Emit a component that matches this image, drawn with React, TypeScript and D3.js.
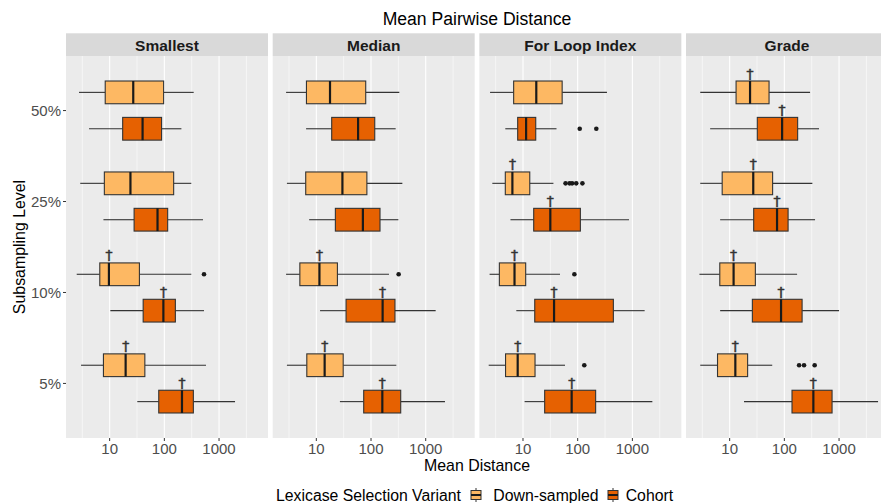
import React from "react";
import * as d3 from "d3";

const panels = ["Smallest", "Median", "For Loop Index", "Grade"];
const levels = ["50%", "25%", "10%", "5%"];
const variants = ["Down-sampled", "Cohort"];
const xTicks = [10, 100, 1000];
const xMinor = [Math.pow(10, 0.5), Math.pow(10, 1.5), Math.pow(10, 2.5), Math.pow(10, 3.5)];

// [level, variant, lower whisker, q1, median, q3, upper whisker, significant]
type Row = [string, string, number, number, number, number, number, boolean];

const smallestStats: Row[] = [
  ["50%", "Down-sampled", 2.75, 8.3, 27, 97, 344, false],
  ["50%", "Cohort", 4.2, 17.3, 40, 89, 205, false],
  ["25%", "Down-sampled", 2.9, 8.0, 24, 148, 311, false],
  ["25%", "Cohort", 7.7, 28, 75, 115, 509, false],
  ["10%", "Down-sampled", 2.5, 6.6, 9.7, 35, 311, true],
  ["10%", "Cohort", 10.3, 41, 96, 159, 531, true],
  ["5%", "Down-sampled", 3.0, 7.7, 19.6, 44, 577, true],
  ["5%", "Cohort", 32, 79, 210, 339, 1960, true],
];
const medianStats: Row[] = [
  ["50%", "Down-sampled", 2.8, 6.6, 17.8, 80, 329, false],
  ["50%", "Cohort", 6.5, 19.1, 58, 117, 282, false],
  ["25%", "Down-sampled", 2.9, 6.4, 30, 84, 374, false],
  ["25%", "Cohort", 7.4, 22.3, 71, 146, 316, false],
  ["10%", "Down-sampled", 2.8, 5.0, 11.4, 24.3, 213, true],
  ["10%", "Cohort", 11.7, 35, 163, 274, 1520, true],
  ["5%", "Down-sampled", 2.9, 6.7, 14.2, 31, 290, true],
  ["5%", "Cohort", 27, 73.5, 161, 349, 2250, true],
];
const forLoopStats: Row[] = [
  ["50%", "Down-sampled", 2.5, 6.75, 17.5, 52, 343, false],
  ["50%", "Cohort", 4.75, 8.0, 11.4, 17.1, 41, false],
  ["25%", "Down-sampled", 2.75, 4.75, 6.4, 13.3, 36, true],
  ["25%", "Cohort", 5.9, 15.7, 31.6, 112, 867, true],
  ["10%", "Down-sampled", 2.45, 3.7, 7.0, 11.2, 47.5, true],
  ["10%", "Cohort", 7.55, 16.4, 37, 449, 1675, true],
  ["5%", "Down-sampled", 2.36, 4.8, 8.0, 16.6, 58.6, true],
  ["5%", "Cohort", 10.7, 24.9, 77.6, 213, 2317, true],
];
const gradeStats: Row[] = [
  ["50%", "Down-sampled", 2.9, 13.1, 23.6, 52.5, 295, true],
  ["50%", "Cohort", 4.4, 32, 91, 175, 430, true],
  ["25%", "Down-sampled", 2.9, 7.3, 27, 61, 325, true],
  ["25%", "Cohort", 6.7, 27.5, 73.5, 117, 364, true],
  ["10%", "Down-sampled", 2.8, 6.6, 11.8, 29.5, 171, true],
  ["10%", "Cohort", 6.7, 26, 87, 211, 1000, true],
  ["5%", "Down-sampled", 2.9, 6.0, 12.7, 21.3, 60, true],
  ["5%", "Cohort", 18.3, 138, 339, 745, 5164, true],
];

// [level, variant, value]
type Out = [string, string, number];
const smallestOutliers: Out[] = [["10%", "Down-sampled", 531]];
const medianOutliers: Out[] = [["10%", "Down-sampled", 320]];
const forLoopOutliers: Out[] = [
  ["50%", "Cohort", 109], ["50%", "Cohort", 219],
  ["25%", "Down-sampled", 60], ["25%", "Down-sampled", 71], ["25%", "Down-sampled", 79],
  ["25%", "Down-sampled", 94], ["25%", "Down-sampled", 122],
  ["10%", "Down-sampled", 87],
  ["5%", "Down-sampled", 132],
];
const gradeOutliers: Out[] = [
  ["5%", "Down-sampled", 186], ["5%", "Down-sampled", 229], ["5%", "Down-sampled", 358],
];

const panelStats = [smallestStats, medianStats, forLoopStats, gradeStats];
const panelOutliers = [smallestOutliers, medianOutliers, forLoopOutliers, gradeOutliers];

const colors: Record<string, string> = { "Down-sampled": "#FDB863", Cohort: "#E66101" };
const FONT = "'Liberation Sans', Arial, Helvetica, sans-serif";

export default function App() {
  const W = 881, H = 503;
  const panelTop = 56, panelBottom = 438;
  const stripTop = 33.3;
  const panelW = 202;
  const firstLeft = 66;
  const step = 206.67;

  const x = d3.scaleLog().domain([Math.pow(10, 0.202), Math.pow(10, 3.895)]).range([0, panelW]);
  const y = d3.scalePoint<string>().domain(levels).range([panelTop, panelBottom]).padding(0.6);
  const band = y.step();
  const dodge = d3.scalePoint<string>().domain(variants).range([-0.2 * band, 0.2 * band]);
  const boxH = 0.25 * band;
  const stroke = "#333333";
  const plotCenter = (firstLeft + firstLeft + 3 * step + panelW) / 2;

  return (
    <svg width={W} height={H} style={{ position: "absolute", left: 0, top: 0, display: "block" }} fontFamily={FONT}>
      <rect width={W} height={H} fill="white" />
      <text x={plotCenter} y={25} textAnchor="middle" fontSize={17.6} fill="#000">Mean Pairwise Distance</text>
      {panels.map((p, pi) => {
        const left = firstLeft + pi * step;
        const stats = panelStats[pi];
        const outs = panelOutliers[pi];
        return (
          <g key={p} transform={`translate(${left},0)`}>
            <rect x={0} y={stripTop} width={panelW} height={panelTop - stripTop} fill="#D9D9D9" />
            <text x={panelW / 2} y={51} textAnchor="middle" fontSize={15.5} fontWeight="bold" fill="#1A1A1A">{p}</text>
            <rect x={0} y={panelTop} width={panelW} height={panelBottom - panelTop} fill="#EBEBEB" />
            {xMinor.map((v) => (
              <line key={"m" + v} x1={x(v)} x2={x(v)} y1={panelTop} y2={panelBottom} stroke="white" strokeWidth={0.55} />
            ))}
            {xTicks.map((v) => (
              <line key={"M" + v} x1={x(v)} x2={x(v)} y1={panelTop} y2={panelBottom} stroke="white" strokeWidth={1.1} />
            ))}
            {stats.map((r) => {
              const [lvl, vr, lo, q1, med, q3, hi, sig] = r;
              const cy = (y(lvl) as number) + (dodge(vr) as number);
              const top = cy - boxH / 2;
              return (
                <g key={lvl + vr}>
                  <line x1={x(lo)} x2={x(q1)} y1={cy} y2={cy} stroke={stroke} strokeWidth={1.1} />
                  <line x1={x(q3)} x2={x(hi)} y1={cy} y2={cy} stroke={stroke} strokeWidth={1.1} />
                  <rect x={x(q1)} y={top} width={x(q3) - x(q1)} height={boxH} fill={colors[vr]} stroke={stroke} strokeWidth={1.1} />
                  <line x1={x(med)} x2={x(med)} y1={top} y2={top + boxH} stroke="#1A1A1A" strokeWidth={2.2} />
                  {sig && (
                    <text x={x(med)} y={top - 2.5} textAnchor="middle" fontSize={14} fontFamily="'DejaVu Sans', sans-serif" fill="#333333" stroke="#333333" strokeWidth={0.5}>†</text>
                  )}
                </g>
              );
            })}
            {outs.map((o, i) => {
              const [lvl, vr, v] = o;
              const cy = (y(lvl) as number) + (dodge(vr) as number);
              return <circle key={i} cx={x(v)} cy={cy} r={2.3} fill="#1A1A1A" />;
            })}
            {xTicks.map((v) => (
              <g key={"t" + v}>
                <line x1={x(v)} x2={x(v)} y1={panelBottom} y2={panelBottom + 3} stroke="#333333" strokeWidth={1} />
                <text x={x(v)} y={454} textAnchor="middle" fontSize={15} fill="#4D4D4D">{v}</text>
              </g>
            ))}
          </g>
        );
      })}
      {levels.map((l) => (
        <g key={l}>
          <line x1={63} x2={66} y1={y(l)} y2={y(l)} stroke="#333333" strokeWidth={1} />
          <text x={61} y={(y(l) as number) + 5.4} textAnchor="end" fontSize={15} fill="#4D4D4D">{l}</text>
        </g>
      ))}
      <text x={plotCenter} y={471} textAnchor="middle" fontSize={15.9} fill="#000">Mean Distance</text>
      <text transform={`translate(24.5,${(panelTop + panelBottom) / 2}) rotate(-90)`} textAnchor="middle" fontSize={15.9} fill="#000">Subsampling Level</text>
      <text x={276} y={500.5} fontSize={15.8} fill="#000">Lexicase Selection Variant</text>
      {variants.map((v, i) => {
        const kx = [476, 613][i];
        const tx = [493.3, 625.7][i];
        const ky = 495;
        return (
          <g key={v}>
            <line x1={kx} x2={kx} y1={ky - 7} y2={ky + 7} stroke={stroke} strokeWidth={1} />
            <rect x={kx - 5} y={ky - 4.5} width={10} height={9} fill={colors[v]} stroke={stroke} strokeWidth={1} />
            <line x1={kx - 5} x2={kx + 5} y1={ky} y2={ky} stroke="#1A1A1A" strokeWidth={2} />
            <text x={tx} y={500.5} fontSize={15.8} fill="#000">{v}</text>
          </g>
        );
      })}
    </svg>
  );
}
